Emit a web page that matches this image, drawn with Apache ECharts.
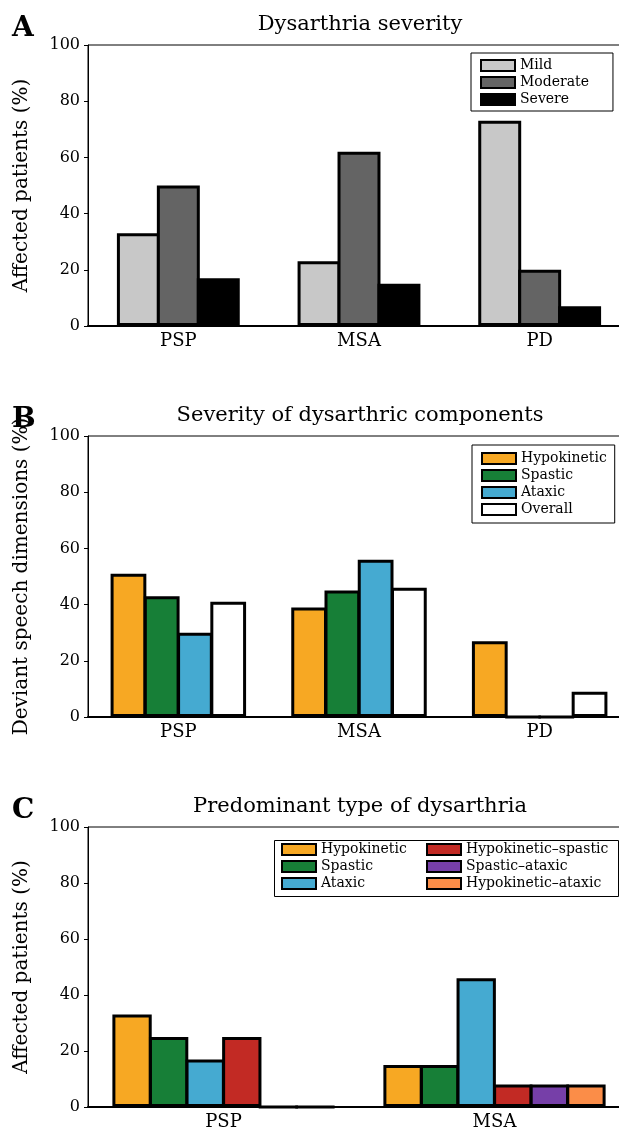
<!DOCTYPE html>
<html>
<head>
<meta charset="utf-8">
<script src="https://cdn.jsdelivr.net/npm/echarts@6/dist/echarts.min.js"></script>
<style>
html,body{margin:0;padding:0;background:#fff;overflow:hidden;width:619px;height:1131px;}
#chart{width:640px;height:1131px;}
</style>
</head>
<body>
<div id="chart"></div>
<script>
// ---- Data ----
const catsAB = ['PSP', 'MSA', 'PD'];
const catsC = ['PSP', 'MSA'];
const yTicks = [0, 20, 40, 60, 80, 100];

const sevNames = ['Mild', 'Moderate', 'Severe'];
const sevMild = [33, 23, 73];
const sevModerate = [50, 62, 20];
const sevSevere = [17, 15, 7];

const compNames = ['Hypokinetic', 'Spastic', 'Ataxic', 'Overall'];
const compHypokinetic = [51, 39, 27];
const compSpastic = [43, 45, 0];
const compAtaxic = [30, 56, 0];
const compOverall = [41, 46, 9];

const typeNames = ['Hypokinetic', 'Spastic', 'Ataxic', 'Hypokinetic\u2013spastic', 'Spastic\u2013ataxic', 'Hypokinetic\u2013ataxic'];
const typeHypokinetic = [33, 15];
const typeSpastic = [25, 15];
const typeAtaxic = [17, 46];
const typeHypoSpastic = [25, 8];
const typeSpasticAtaxic = [0, 8];
const typeHypoAtaxic = [0, 8];

const titles = ['Dysarthria severity', 'Severity of dysarthric components', 'Predominant type of dysarthria'];
const yNames = ['Affected patients (%)', 'Deviant speech dimensions (%)', 'Affected patients (%)'];
const letters = ['A', 'B', 'C'];

// ---- Styling ----
const FONT = 'DejaVu Serif';
const col = {
  Mild: '#c8c8c8', Moderate: '#646464', Severe: '#000000',
  Hypokinetic: '#f7a823', Spastic: '#177f37', Ataxic: '#45aad1', Overall: '#ffffff',
  'Hypokinetic\u2013spastic': '#c22a24', 'Spastic\u2013ataxic': '#763fa8', 'Hypokinetic\u2013ataxic': '#fb8d48'
};
const tops = [45, 436, 827];
const plotH = 281, plotL = 88, plotW = 542;

const grids = tops.map(t => ({ left: plotL, top: t, width: plotW, height: plotH, show: true, borderColor: '#000', borderWidth: 1, backgroundColor: 'transparent' }));

const xAxes = [catsAB, catsAB, catsC].map((c, i) => ({
  type: 'category', gridIndex: i, data: c,
  axisLine: { lineStyle: { color: '#000', width: 2 } },
  axisTick: { show: false },
  axisLabel: { color: '#000', fontFamily: FONT, fontSize: 18, margin: 6 }
}));
const yAxes = [0, 1, 2].map(i => ({
  type: 'value', gridIndex: i, min: yTicks[0], max: yTicks[yTicks.length - 1], interval: yTicks[1] - yTicks[0],
  name: yNames[i], nameLocation: 'middle', nameGap: 56,
  nameTextStyle: { color: '#000', fontFamily: FONT, fontSize: 20 },
  axisLine: { show: true, lineStyle: { color: '#000', width: 1 } },
  axisTick: { show: true, length: 4, lineStyle: { color: '#000' } },
  axisLabel: { color: '#000', fontFamily: FONT, fontSize: 16, margin: 8 },
  splitLine: { show: false }
}));

function bar(name, data, gi, catGap) {
  return {
    type: 'bar', name, data, xAxisIndex: gi, yAxisIndex: gi,
    barGap: '-7%', barCategoryGap: catGap,
    itemStyle: { color: col[name], borderColor: '#000', borderWidth: 3 },
    emphasis: { disabled: true }, animation: false
  };
}
const series = [
  bar('Mild', sevMild, 0, '32%'),
  bar('Moderate', sevModerate, 0, '32%'),
  bar('Severe', sevSevere, 0, '32%'),
  bar('Hypokinetic', compHypokinetic, 1, '25%'),
  bar('Spastic', compSpastic, 1, '25%'),
  bar('Ataxic', compAtaxic, 1, '25%'),
  bar('Overall', compOverall, 1, '25%'),
  bar(typeNames[0], typeHypokinetic, 2, '18%'),
  bar(typeNames[1], typeSpastic, 2, '18%'),
  bar(typeNames[2], typeAtaxic, 2, '18%'),
  bar(typeNames[3], typeHypoSpastic, 2, '18%'),
  bar(typeNames[4], typeSpasticAtaxic, 2, '18%'),
  bar(typeNames[5], typeHypoAtaxic, 2, '18%')
];

const legendBase = {
  orient: 'vertical', itemWidth: 34, itemHeight: 11, itemGap: 2, icon: 'rect', selectedMode: false,
  textStyle: { color: '#000', fontFamily: FONT, fontSize: 14, lineHeight: 15 },
  itemStyle: { borderColor: '#000', borderWidth: 2 }
};
const legends = [
  Object.assign({}, legendBase, { data: sevNames, left: 471, top: 53, borderColor: '#000', borderWidth: 1, padding: [5, 24, 4, 9] }),
  Object.assign({}, legendBase, { data: compNames, left: 472, top: 445, borderColor: '#000', borderWidth: 1, padding: [6, 8, 6, 9] }),
  Object.assign({}, legendBase, { data: typeNames.slice(0, 3), left: 281, top: 842, padding: 0 }),
  Object.assign({}, legendBase, { data: typeNames.slice(3), left: 426, top: 842, padding: 0 })
];

const titleComps = titles.map((t, i) => ({
  text: t, left: plotL + plotW / 2 - 4, top: tops[i] - 36, textAlign: 'center',
  textStyle: { color: '#000', fontFamily: FONT, fontSize: 21, fontWeight: 'normal' }
}));

const graphics = letters.map((l, i) => ({
  type: 'text', left: 12, top: tops[i] - 30,
  style: { text: l, fill: '#000', font: 'bold 28px "' + FONT + '"' }
}));
graphics.push({
  type: 'rect', left: 272, top: 838,
  shape: { width: 344, height: 56 },
  style: { fill: 'none', stroke: '#000', lineWidth: 1 }, z: 0
});

const chart = echarts.init(document.getElementById('chart'), null, { renderer: 'canvas' });
chart.setOption({
  animation: false,
  backgroundColor: '#fff',
  title: titleComps,
  grid: grids,
  xAxis: xAxes,
  yAxis: yAxes,
  legend: legends,
  series: series,
  graphic: graphics
});
</script>
</body>
</html>
